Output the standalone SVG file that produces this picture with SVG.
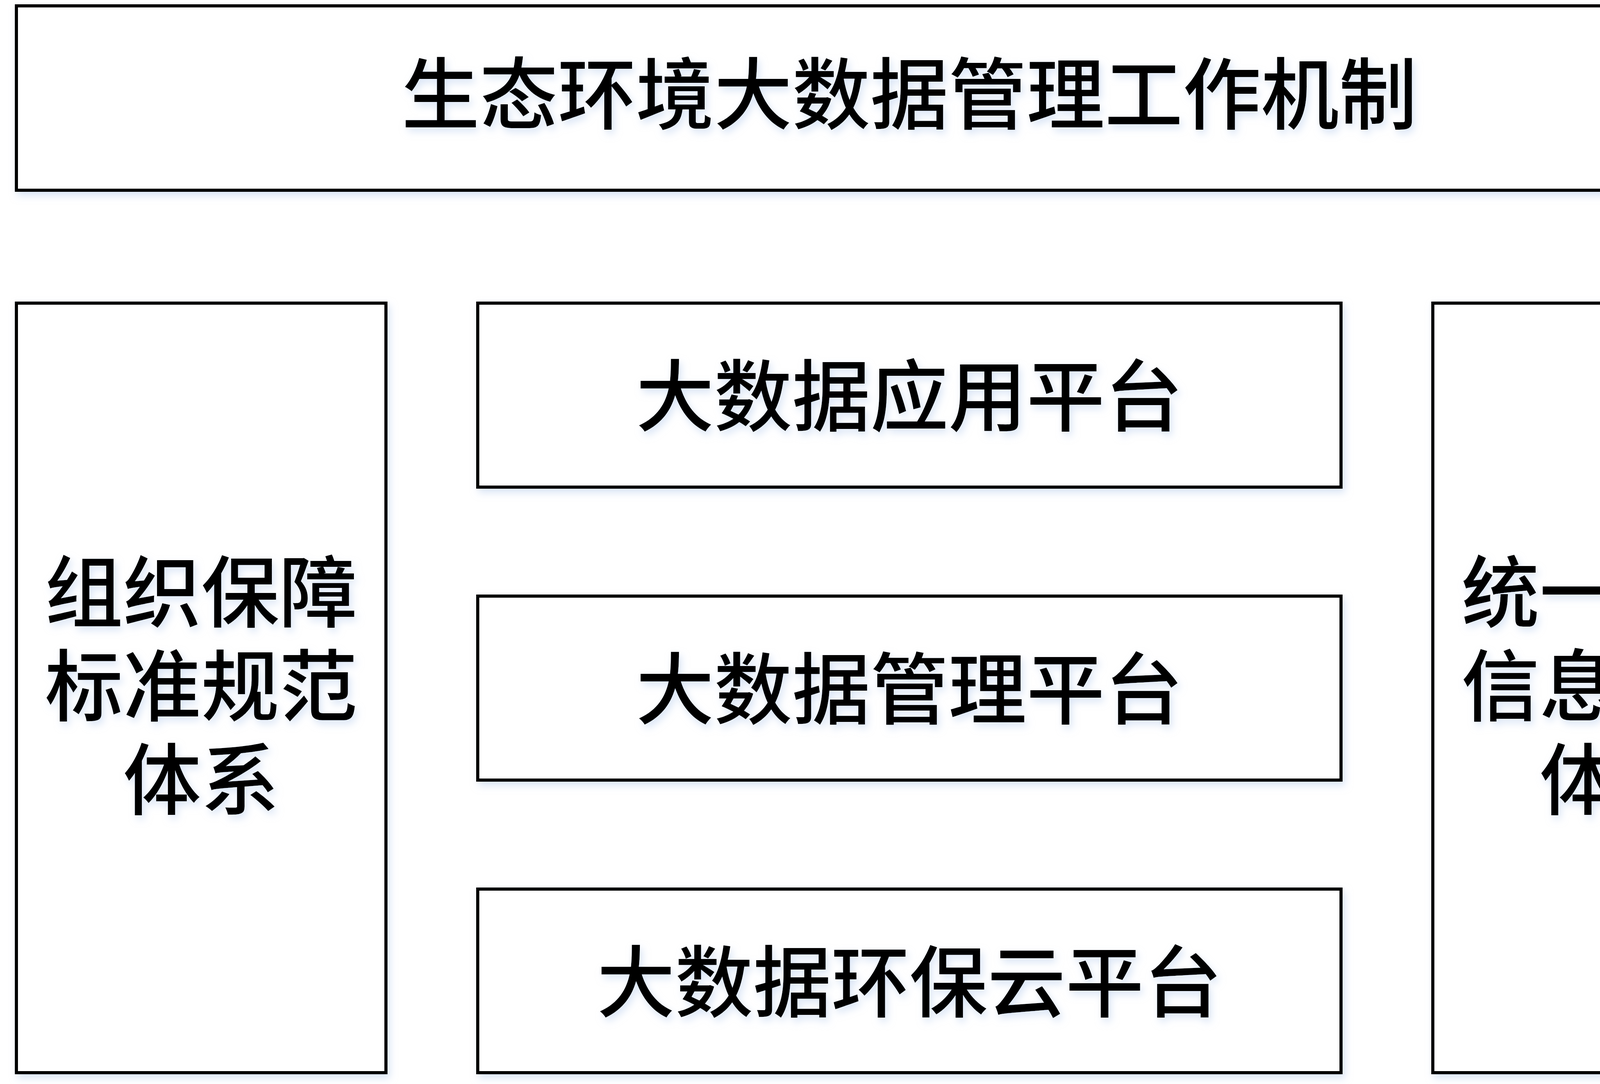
<svg xmlns="http://www.w3.org/2000/svg" width="4664" height="2775" viewBox="0 0 4664 2775">
  <defs>
    <filter id="shadow" x="-10%" y="-10%" width="120%" height="130%">
      <feDropShadow dx="6" dy="10" stdDeviation="10" flood-color="#b9cfee" flood-opacity="0.55"/>
    </filter>
    <style>
      .box { fill: #ffffff; stroke: #000000; stroke-width: 8; filter: url(#shadow); }
      .lbl { font-family: "Noto Sans CJK SC", "Microsoft YaHei", sans-serif; font-size: 200px; font-weight: 500; fill: #000000; text-anchor: middle; dominant-baseline: central; filter: url(#shadow); }
    </style>
  </defs>
  <rect width="4664" height="2775" fill="#ffffff"/>
  <g id="connectors"></g>
  <g id="node-top">
    <rect class="box" x="42" y="15" width="4572" height="472"/>
    <text class="lbl" x="2328" y="228">生态环境大数据管理工作机制</text>
  </g>
  <g id="node-left">
    <rect class="box" x="42" y="776" width="946" height="1970"/>
    <text class="lbl" x="515" y="1503">组织保障<tspan x="515" dy="240">标准规范</tspan><tspan x="515" dy="240">体系</tspan></text>
  </g>
  <g id="node-app">
    <rect class="box" x="1223" y="776" width="2210" height="471"/>
    <text class="lbl" x="2328" y="1001">大数据应用平台</text>
  </g>
  <g id="node-mgmt">
    <rect class="box" x="1223" y="1526" width="2210" height="471"/>
    <text class="lbl" x="2328" y="1751">大数据管理平台</text>
  </g>
  <g id="node-cloud">
    <rect class="box" x="1223" y="2276" width="2210" height="470"/>
    <text class="lbl" x="2328" y="2501">大数据环保云平台</text>
  </g>
  <g id="node-right">
    <rect class="box" x="3668" y="776" width="946" height="1970"/>
    <text class="lbl" x="4141" y="1503">统一运维<tspan x="4141" dy="240">信息安全</tspan><tspan x="4141" dy="240">体系</tspan></text>
  </g>
</svg>
